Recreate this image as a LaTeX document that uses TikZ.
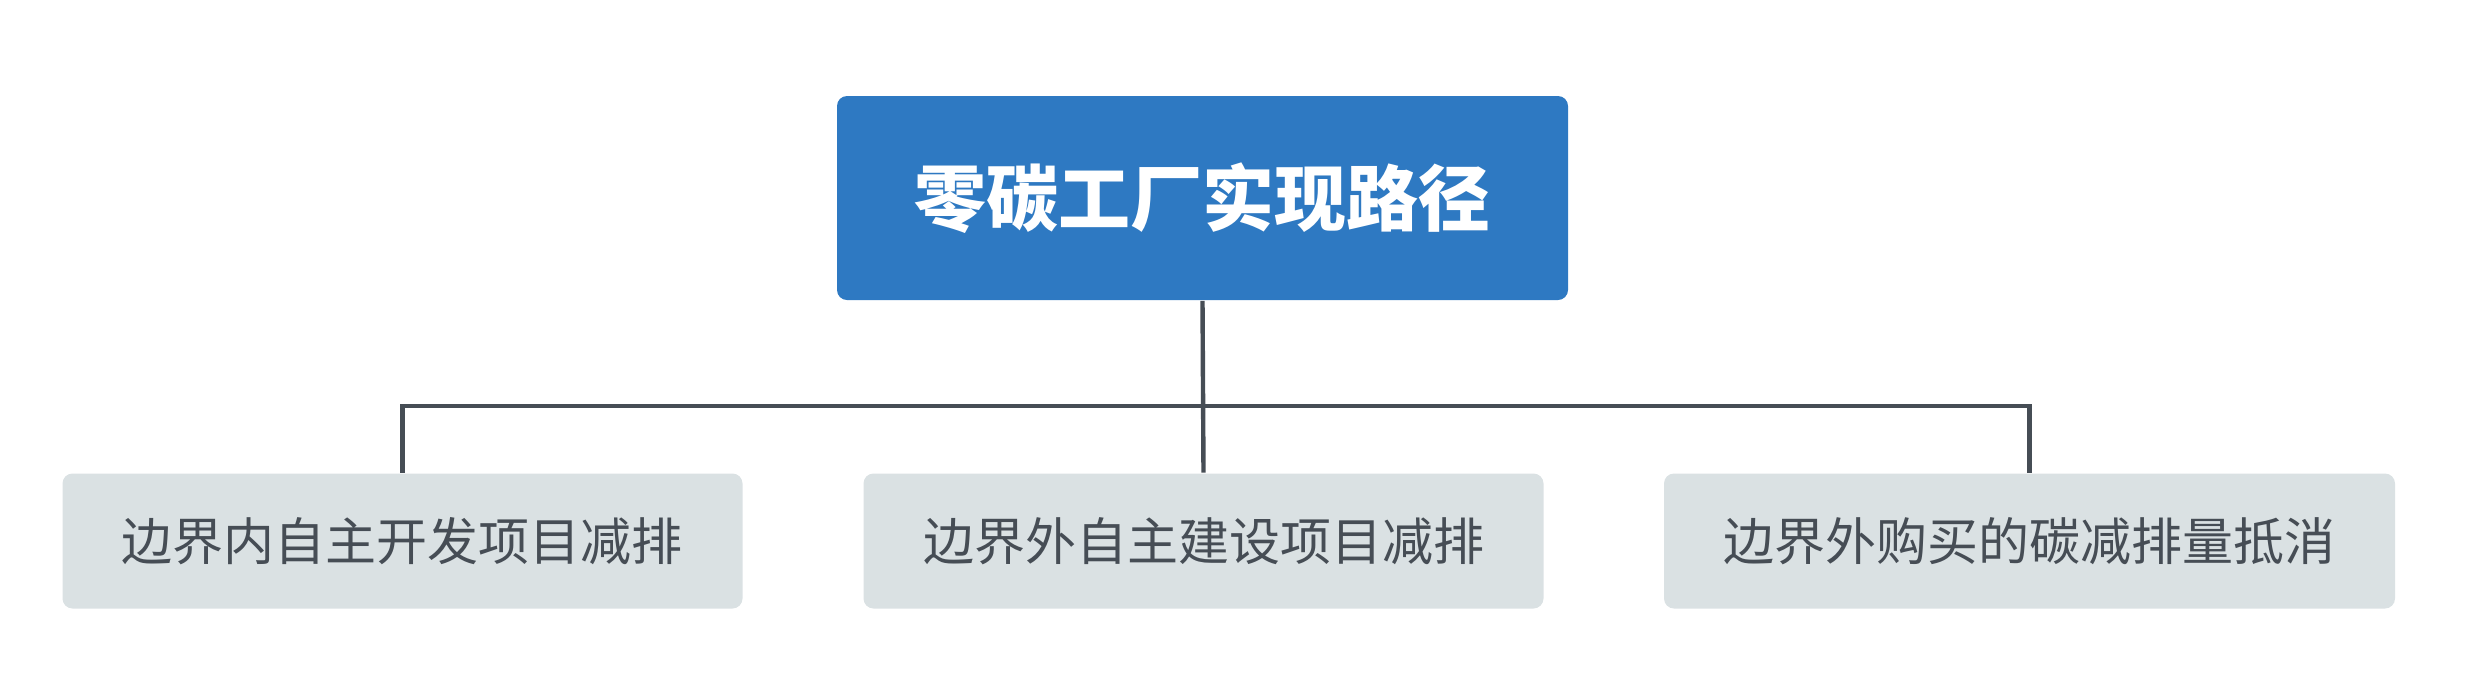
\documentclass[tikz,border=0pt]{standalone}
\usepackage{fontspec}
\usepackage{xcolor}
\usepackage{tikz}
\newfontfamily\cjk{Noto Sans CJK SC}
\definecolor{rootblue}{HTML}{2E79C2}
\definecolor{leafgray}{HTML}{DAE1E3}
\definecolor{inkgray}{HTML}{464D55}

\begin{document}
\begin{tikzpicture}[x=0.25pt,y=-0.25pt]
          \tikzset{
            RootStyle/.style = { rectangle, rounded corners=2.5pt, fill = rootblue,
              minimum width = 182.75pt, minimum height = 51pt, inner sep = 0pt,
              text = white, font = \cjk\bfseries\fontsize{18pt}{18pt}\selectfont },
            LeafStyle/.style = { rectangle, rounded corners=2.5pt, fill = leafgray,
              minimum width = 170pt, minimum height = 33.75pt, inner sep = 0pt,
              text = inkgray, font = \cjk\fontsize{12.75pt}{12.75pt}\selectfont },
            LinkStyle/.style = { draw = inkgray, line width = 1.1pt } }

          \useasboundingbox (0,0) rectangle (2476,699);
          \node[RootStyle] (Root) at (1202.5,198) {零碳工厂实现路径};
          \node[LeafStyle] (Inner) at (402.5,541) {边界内自主开发项目减排};
          \node[LeafStyle] (Outer) at (1203.5,541) {边界外自主建设项目减排};
          \node[LeafStyle, minimum width = 182.75pt] (Offset) at (2029.5,541) {边界外购买的碳减排量抵消};
          \coordinate (Bus) at (1203.5,406);

          \draw[LinkStyle] (Root.south) -- (Outer.north);
          \draw[LinkStyle] (Bus) -| (Inner.north);
          \draw[LinkStyle] (Bus) -| (Offset.north);
        \end{tikzpicture}
\end{document}
